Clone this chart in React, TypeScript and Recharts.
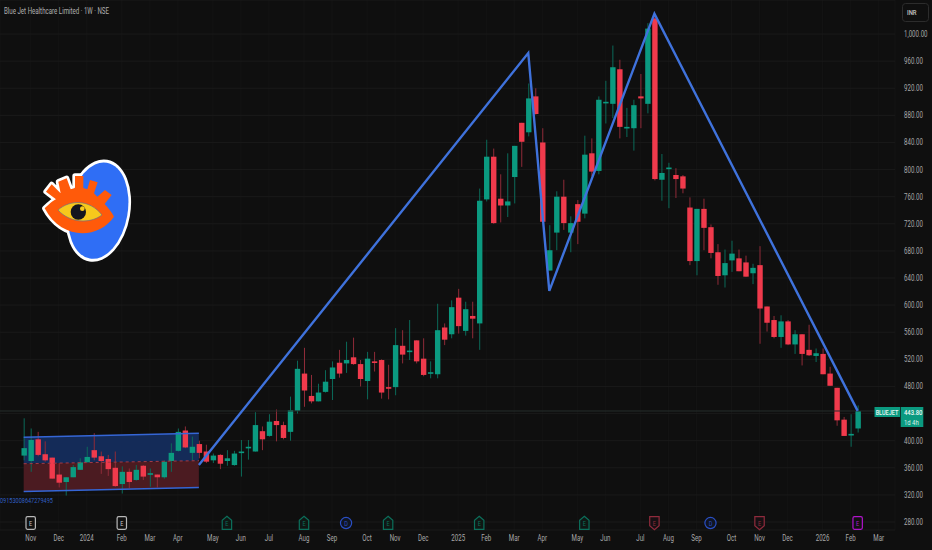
import React from "react";
import {
  ComposedChart, Bar, Line, Area, XAxis, YAxis, CartesianGrid, ReferenceLine, ReferenceDot,
} from "recharts";

const highs = [433,418,413,399,375,367,346,364,374,391,411,384,379,384,362,359,364,364,359,350,371,396,418,421,406,400,394,381,380,386,385,401,401,442,421,439,446,428,465,518,537,497,484,504,517,534,546,552,519,531,531,520,512,566,563,578,548,551,517,602,573,607,624,605,605,772,844,831,793,824,835,869,927,920,861,718,768,785,731,755,850,846,908,931,983,962,891,903,941,1016,1028,823,810,802,792,759,742,757,719,690,682,695,682,673,661,687,598,584,585,578,563,557,571,536,536,509,478,435,439,452];
const opens = [378,370,402,380,375,350,339,346,357,368,386,377,373,360,336,354,342,363,350,350,346,370,385,415,382,395,384,371,379,370,364,383,390,384,414,407,429,423,413,444,499,466,458,472,491,515,514,523,513,488,517,519,479,479,540,531,548,521,499,498,567,557,611,562,584,573,756,819,757,747,789,869,855,908,840,651,707,760,707,749,735,824,798,899,897,948,861,861,908,897,1023,785,801,792,790,744,665,742,715,678,644,666,669,663,647,659,598,578,553,576,542,557,534,525,528,499,478,431,408,418];
const closes = [389,401,379,371,344,338,346,361,368,376,375,370,358,333,354,339,357,347,352,346,369,382,413,390,391,382,369,378,366,374,381,384,391,423,402,428,423,404,445,506,474,458,471,487,508,499,519,513,491,521,515,471,478,541,527,533,517,497,501,563,549,597,569,594,580,754,819,721,747,753,835,841,905,882,723,681,760,721,721,723,822,797,903,900,951,863,863,895,905,1008,786,795,803,786,772,665,742,714,677,643,662,676,650,642,655,595,574,553,576,542,557,528,526,529,498,481,430,407,410,443.8];
const lows = [371,354,377,369,344,331,319,346,357,368,371,351,348,332,322,330,341,342,332,331,344,354,384,389,371,374,367,367,358,363,363,347,372,384,386,406,399,402,400,440,450,455,458,471,460,493,500,512,480,461,502,462,461,467,514,519,514,495,492,492,541,551,558,555,551,534,753,720,722,730,750,804,849,881,722,651,681,711,678,690,728,790,793,868,876,846,848,828,861,883,784,754,743,758,765,659,644,681,669,630,626,649,650,642,631,543,561,551,537,541,528,511,525,516,498,481,422,407,391,412];

const zigzagIdx = [25, 72, 75, 90, 119];
const zigzagPrice = [364, 972, 621, 1030, 444];

const channelIdx = [0, 25];
const channelTop = [405, 411];
const channelMid = [366, 370.5];
const channelBottom = [325, 331];

const monthIdx = [1,5,9,14,18,22,27,31,35,40,44,49,53,57,62,66,70,74,79,83,88,92,96,101,105,109,114,118,122];
const monthLabels = ["Nov","Dec","2024","Feb","Mar","Apr","May","Jun","Jul","Aug","Sep","Oct","Nov","Dec","2025","Feb","Mar","Apr","May","Jun","Jul","Aug","Sep","Oct","Nov","Dec","2026","Feb","Mar"];

const priceTicks = [280,320,360,400,440,480,520,560,600,640,680,720,760,800,840,880,920,960,1000];
const lastPrice = 443.8;

const eventIdx = [1,14,29,40,46,52,65,80,90,98,105,119];
const eventKind = ["w","w","g","g","d","g","g","g","r","d","r","p"];
const eventPrice = 278.5;

const candles = opens.map((o, i) => ({ i, open: o, close: closes[i], range: [lows[i], highs[i]] }));
const zigzag = zigzagIdx.map((i, k) => ({ i, zig: zigzagPrice[k] }));
const channel = channelIdx.map((i, k) => ({
  i, top: channelTop[k], mid: channelMid[k], bottom: channelBottom[k],
  upper: [channelMid[k], channelTop[k]], lower: [channelBottom[k], channelMid[k]],
}));

const UP = "#0b9a80";
const DOWN = "#f03a4c";
const FONT = "Roboto, sans-serif";
const SQ = 0.74;

function Sq({ x, y, size = 8, fill = "#b4b4b4", anchor = "start", weight = 400, children }: any) {
  return (
    <text transform={`translate(${x},${y}) scale(${SQ},1)`} fontFamily={FONT} fontSize={size} fill={fill} textAnchor={anchor} fontWeight={weight}>
      {children}
    </text>
  );
}

function Candle(props: any) {
  const { x, y, width, height, payload } = props;
  const h = Math.abs(height);
  const top = height < 0 ? y + height : y;
  const [lo, hi] = payload.range;
  const k = h / (hi - lo);
  const up = payload.close >= payload.open;
  const bodyHi = Math.max(payload.open, payload.close);
  const bodyLo = Math.min(payload.open, payload.close);
  const by = top + (hi - bodyHi) * k;
  const bh = Math.max((bodyHi - bodyLo) * k, 1.6);
  const cx = x + width / 2;
  return (
    <g>
      <line x1={cx} x2={cx} y1={top} y2={top + h} stroke={up ? "#0b6a59" : "#8f2b38"} strokeWidth={1} />
      <rect x={cx - 2.7} y={by} width={5.4} height={bh} fill={up ? UP : DOWN} />
    </g>
  );
}

function XTick({ x, y, payload }: any) {
  const k = monthIdx.indexOf(payload.value);
  return <Sq x={x} y={y + 3} size={8.3} anchor="middle" fill="#a8a8a8">{monthLabels[k]}</Sq>;
}

function YTick({ y, payload }: any) {
  if (payload.value === 440) return <g />;
  const t = payload.value >= 1000 ? "1,000.00" : payload.value.toFixed(2);
  return <Sq x={904} y={y + 3} size={8.3} fill="#a8a8a8">{t}</Sq>;
}

function EventIcon({ cx, cy, kind }: any) {
  const color = kind === "w" ? "#b8b8b8" : kind === "g" ? "#0c6f5b" : kind === "r" ? "#8f2b3c" : kind === "d" ? "#2a4fc4" : "#b114cc";
  const hw = 4.7, hh = 6.3;
  let shape;
  if (kind === "d") {
    shape = <circle cx={cx} cy={cy} r={5.6} fill="#101522" stroke={color} strokeWidth={1.2} />;
  } else if (kind === "g") {
    shape = <path d={`M${cx} ${cy - hh - 0.5} L${cx + hw} ${cy - hh + 3.5} V${cy + hh} H${cx - hw} V${cy - hh + 3.5} Z`} fill="#0f1714" stroke={color} strokeWidth={1.2} />;
  } else if (kind === "r") {
    shape = <path d={`M${cx - hw} ${cy - hh} H${cx + hw} V${cy + hh - 3.5} L${cx} ${cy + hh + 0.5} L${cx - hw} ${cy + hh - 3.5} Z`} fill="#171013" stroke={color} strokeWidth={1.2} />;
  } else {
    shape = <rect x={cx - hw} y={cy - hh} width={hw * 2} height={hh * 2} rx={1.5} fill="#111" stroke={color} strokeWidth={1.2} />;
  }
  return (
    <g>
      {shape}
      <Sq x={cx} y={cy + 2.7} size={7.5} anchor="middle" fill={kind === "w" ? "#c8c8c8" : color}>{kind === "d" ? "D" : "E"}</Sq>
    </g>
  );
}

const EYE = "M44 175 C60 160 70 152 78 148 L48 125 L65 103 L92 130 L85 95 L110 85 L122 118 L135 114 V78 H160 V114 L172 118 L180 90 L203 97 L192 130 L202 140 L225 120 L245 135 L224 162 C236 175 246 188 252 200 C205 268 95 272 44 175 Z";

function Logo() {
  return (
    <g transform="translate(30,150) scale(0.3333)">
      <ellipse cx={205} cy={182} rx={96} ry={155} transform="rotate(10 205 182)" fill="#fff" />
      <path d={EYE} fill="#fff" stroke="#fff" strokeWidth={16} strokeLinejoin="round" />
      <ellipse cx={205} cy={182} rx={88} ry={146} transform="rotate(10 205 182)" fill="#2f6ef5" />
      <path d={EYE} fill="#ff5a0a" />
      <path d="M84 180 C120 148 180 148 216 195 C180 222 120 220 84 180 Z" fill="#f7c91c" stroke="#6a6f86" strokeWidth={2} />
      <circle cx={145} cy={186} r={23} fill="#14161e" />
      <circle cx={157} cy={176} r={7} fill="#f7c91c" />
    </g>
  );
}

export default function App() {
  return (
    <div style={{ position: "absolute", left: 0, top: 0, width: 932, height: 550, background: "#0f0f0f", overflow: "hidden" }}>
      <ComposedChart width={932} height={550} data={candles} margin={{ top: 0, right: 0, bottom: 0, left: 0 }}>
        <CartesianGrid stroke="#141414" strokeWidth={1} horizontal={false} />
        <CartesianGrid stroke="#1a1a1a" strokeWidth={1} vertical={false} />
        <XAxis dataKey="i" type="number" domain={[-3.38, 124.33]} ticks={monthIdx} interval={0} allowDataOverflow height={20} axisLine={false} tickLine={false} tick={<XTick />} />
        <YAxis orientation="right" type="number" domain={[268.2, 1050.2]} ticks={priceTicks} interval={0} allowDataOverflow width={37} axisLine={false} tickLine={false} tick={<YTick />} />
        <ReferenceLine y={lastPrice} stroke="#262e2c" strokeWidth={1} />
        <Area data={channel} dataKey="upper" type="linear" stroke="none" fill="#142b58" fillOpacity={1} isAnimationActive={false} dot={false} activeDot={false} />
        <Area data={channel} dataKey="lower" type="linear" stroke="none" fill="#4b1b21" fillOpacity={1} isAnimationActive={false} dot={false} activeDot={false} />
        <Bar dataKey="range" barSize={6} shape={<Candle />} isAnimationActive={false} />
        <Line data={channel} dataKey="top" type="linear" stroke="#3566d6" strokeWidth={1.5} dot={false} activeDot={false} isAnimationActive={false} />
        <Line data={channel} dataKey="bottom" type="linear" stroke="#3566d6" strokeWidth={1.5} dot={false} activeDot={false} isAnimationActive={false} />
        <Line data={channel} dataKey="mid" type="linear" stroke="#a33a48" strokeWidth={1} strokeDasharray="3 3" dot={false} activeDot={false} isAnimationActive={false} />
        <Line data={zigzag} dataKey="zig" type="linear" stroke="#3f72dc" strokeWidth={2.4} dot={false} activeDot={false} isAnimationActive={false} />
        {eventIdx.map((i, k) => (
          <ReferenceDot key={k} x={i} y={eventPrice} ifOverflow="visible" shape={(p: any) => <EventIcon cx={p.cx} cy={p.cy} kind={eventKind[k]} />} />
        ))}
      </ComposedChart>
      <svg width={932} height={550} style={{ position: "absolute", left: 0, top: 0, pointerEvents: "none" }}>
        <Sq x={4} y={14} size={8.3} fill="#b0b0b0">Blue Jet Healthcare Limited · 1W · NSE</Sq>
        <Logo />
        <Sq x={0} y={503} size={7.5} fill="#2f5fc4">09153008647279495</Sq>
        <rect x={902.5} y={3.5} width={26} height={18} rx={3} fill="#0f0f0f" stroke="#2c2c2c" />
        <Sq x={907} y={15} size={8} fill="#c4c4c4" weight={500}>INR</Sq>
        <rect x={874.5} y={407} width={25.5} height={10} fill="#0b9a80" />
        <rect x={900.7} y={407} width={22.6} height={20} fill="#0b9a80" />
        <Sq x={887} y={415} size={7.5} anchor="middle" fill="#e8f5f2" weight={500}>BLUEJET</Sq>
        <Sq x={904} y={415} size={8} fill="#f0f8f6" weight={500}>443.80</Sq>
        <Sq x={904} y={424.5} size={8} fill="#d8efe9">1d 4h</Sq>
      </svg>
    </div>
  );
}
